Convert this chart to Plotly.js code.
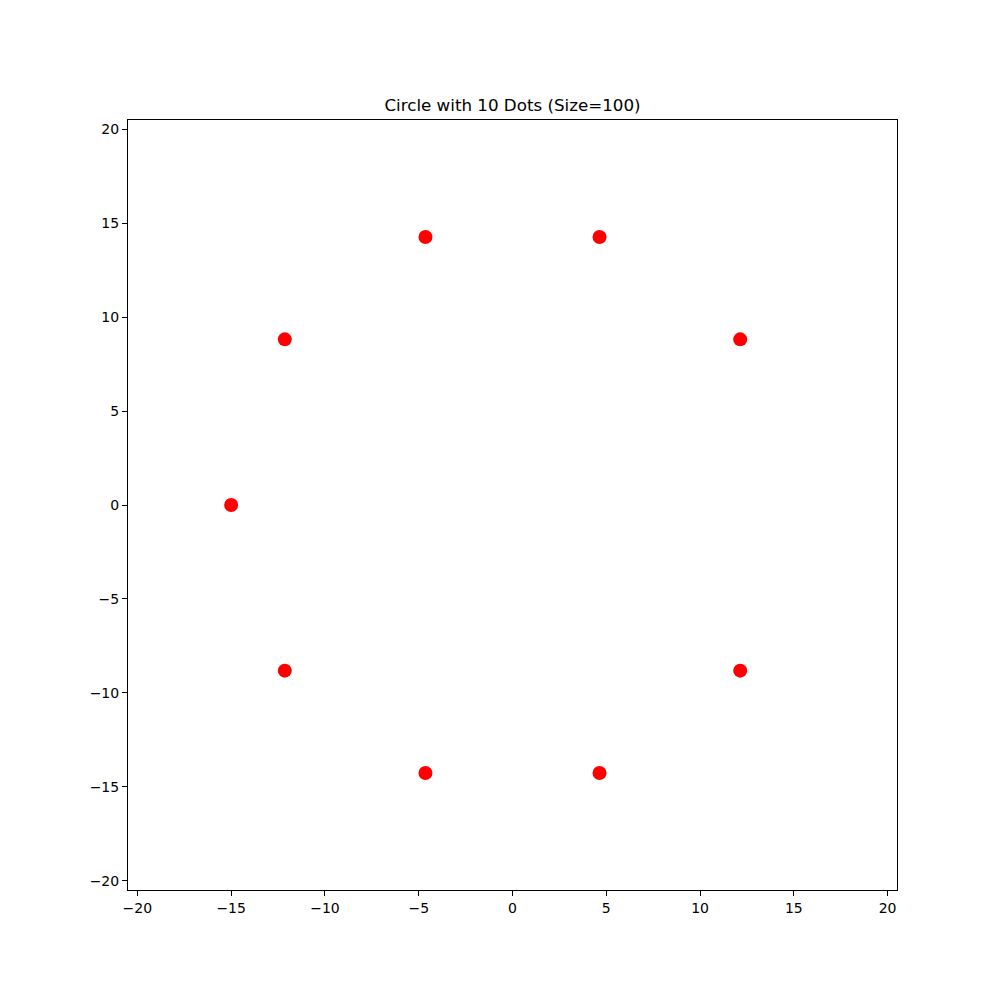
<!DOCTYPE html>
<html>
<head>
<meta charset="utf-8">
<script src="https://cdn.plot.ly/plotly-3.0.1.min.js"></script>
<style>html,body{margin:0;padding:0;background:#fff;}</style>
</head>
<body>
<div id="chart" style="width:1000px;height:1000px;"></div>
<script>
const xValues = [12.14, 4.64, -4.64, -12.14, -15.0, -12.14, -4.64, 4.64, 12.14];
const yValues = [8.82, 14.27, 14.27, 8.82, 0.0, -8.82, -14.27, -14.27, -8.82];
const tickVals = [-20, -15, -10, -5, 0, 5, 10, 15, 20];
const tickText = ['\u221220', '\u221215', '\u221210', '\u22125', '0', '5', '10', '15', '20'];
const titleText = 'Circle with 10 Dots (Size=100)';

const axisCommon = {
  range: [-20.5, 20.5],
  tickmode: 'array',
  tickvals: tickVals,
  ticktext: tickText,
  ticks: 'outside',
  ticklen: 5,
  tickwidth: 1,
  tickcolor: '#000',
  showline: true,
  linecolor: '#000',
  linewidth: 1,
  mirror: true,
  showgrid: false,
  zeroline: false,
  tickfont: {family: 'DejaVu Sans', size: 14, color: '#000'}
};

Plotly.newPlot('chart', [{
  type: 'scatter',
  mode: 'markers',
  x: xValues,
  y: yValues,
  marker: {color: '#ff0000', size: 14, line: {width: 0}},
  hoverinfo: 'skip'
}], {
  width: 1000,
  height: 1000,
  margin: {l: 128, r: 103, t: 120, b: 110},
  paper_bgcolor: '#fff',
  plot_bgcolor: '#fff',
  showlegend: false,
  title: {
    text: titleText,
    font: {family: 'DejaVu Sans', size: 16.7, color: '#000'},
    x: 0.5, xref: 'paper', xanchor: 'center',
    y: 0.895, yref: 'container', yanchor: 'middle'
  },
  xaxis: Object.assign({}, axisCommon),
  yaxis: Object.assign({}, axisCommon)
}, {displayModeBar: false, staticPlot: true});
</script>
</body>
</html>
